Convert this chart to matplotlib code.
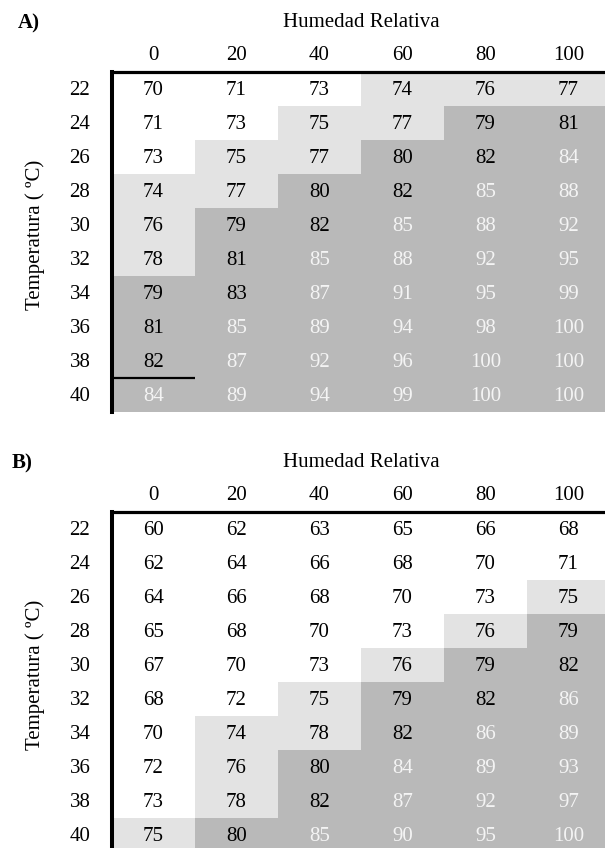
import matplotlib
matplotlib.use("Agg")
import matplotlib.pyplot as plt
from matplotlib.colors import ListedColormap
import numpy as np

humidity = [0, 20, 40, 60, 80, 100]
temperatures = [22, 24, 26, 28, 30, 32, 34, 36, 38, 40]

values_a = [
    [70, 71, 73, 74, 76, 77],
    [71, 73, 75, 77, 79, 81],
    [73, 75, 77, 80, 82, 84],
    [74, 77, 80, 82, 85, 88],
    [76, 79, 82, 85, 88, 92],
    [78, 81, 85, 88, 92, 95],
    [79, 83, 87, 91, 95, 99],
    [81, 85, 89, 94, 98, 100],
    [82, 87, 92, 96, 100, 100],
    [84, 89, 94, 99, 100, 100],
]

values_b = [
    [60, 62, 63, 65, 66, 68],
    [62, 64, 66, 68, 70, 71],
    [64, 66, 68, 70, 73, 75],
    [65, 68, 70, 73, 76, 79],
    [67, 70, 73, 76, 79, 82],
    [68, 72, 75, 79, 82, 86],
    [70, 74, 78, 82, 86, 89],
    [72, 76, 80, 84, 89, 93],
    [73, 78, 82, 87, 92, 97],
    [75, 80, 85, 90, 95, 100],
]

panel_titles = ["A)", "B)"]
x_title = "Humedad Relativa"
y_title = "Temperatura ( ºC)"

# shading thresholds: <74 white, 74-78 light gray, >=79 gray; text light when >=84
light_from = 74
dark_from = 79
white_text_from = 84

plt.rcParams['font.family'] = ['Liberation Serif', 'DejaVu Serif']

W, H = 605, 848
fig = plt.figure(figsize=(W / 100, H / 100), dpi=100)

cmap = ListedColormap(["#FFFFFF", "#E3E3E3", "#B9B9B9"])
FS = 15


def draw_panel(top_px, values, title, title_xy, extra_line=None):
    left_px = 112
    col_w = 83
    row_h = 34
    ncol = len(humidity)
    nrow = len(temperatures)
    ax = fig.add_axes([left_px / W, 1 - (top_px + nrow * row_h) / H,
                       ncol * col_w / W, nrow * row_h / H])
    v = np.array(values)
    cat = np.where(v >= dark_from, 2, np.where(v >= light_from, 1, 0))
    ax.pcolormesh(np.arange(ncol + 1), np.arange(nrow + 1), cat,
                  cmap=cmap, vmin=0, vmax=2, shading='flat')
    ax.set_xlim(0, ncol)
    ax.set_ylim(nrow, 0)
    ax.set_xticks([])
    ax.set_yticks([])
    for s in ['right', 'bottom']:
        ax.spines[s].set_visible(False)
    ax.spines['top'].set_linewidth(2.3)
    ax.spines['left'].set_linewidth(2.9)
    for i in range(nrow):
        for j in range(ncol):
            val = v[i, j]
            col = "#F4F4F4" if val >= white_text_from else "black"
            ax.text(j + 0.5, i + 0.55, str(val), ha='center', va='center',
                    fontsize=FS, color=col)
    for j, h in enumerate(humidity):
        ax.text(j + 0.5, -0.5, str(h), ha='center', va='center', fontsize=FS,
                clip_on=False)
    for i, t in enumerate(temperatures):
        ax.text(-0.386, i + 0.55, str(t), ha='center', va='center', fontsize=FS,
                clip_on=False)
    ax.text(3.0, -1.47, x_title, ha='center', va='center', fontsize=FS,
            clip_on=False)
    ax.text(-0.93, 4.8, y_title, ha='center', va='center', fontsize=FS,
            rotation=90, clip_on=False)
    fig.text(title_xy[0] / W, 1 - title_xy[1] / H, title, ha='center',
             va='center', fontsize=FS, fontweight='bold')
    if extra_line is not None:
        r, c = extra_line
        ax.plot([0, c], [r, r], color='black', lw=1.6, clip_on=False,
                solid_capstyle='butt')
    return ax


# line under the "38" row for the first column in panel A
draw_panel(72, values_a, panel_titles[0], (29, 23),
           extra_line=(temperatures.index(38) + 1, humidity.index(0) + 1))
draw_panel(512, values_b, panel_titles[1], (22, 463))

fig.savefig("out.png", dpi=100)
